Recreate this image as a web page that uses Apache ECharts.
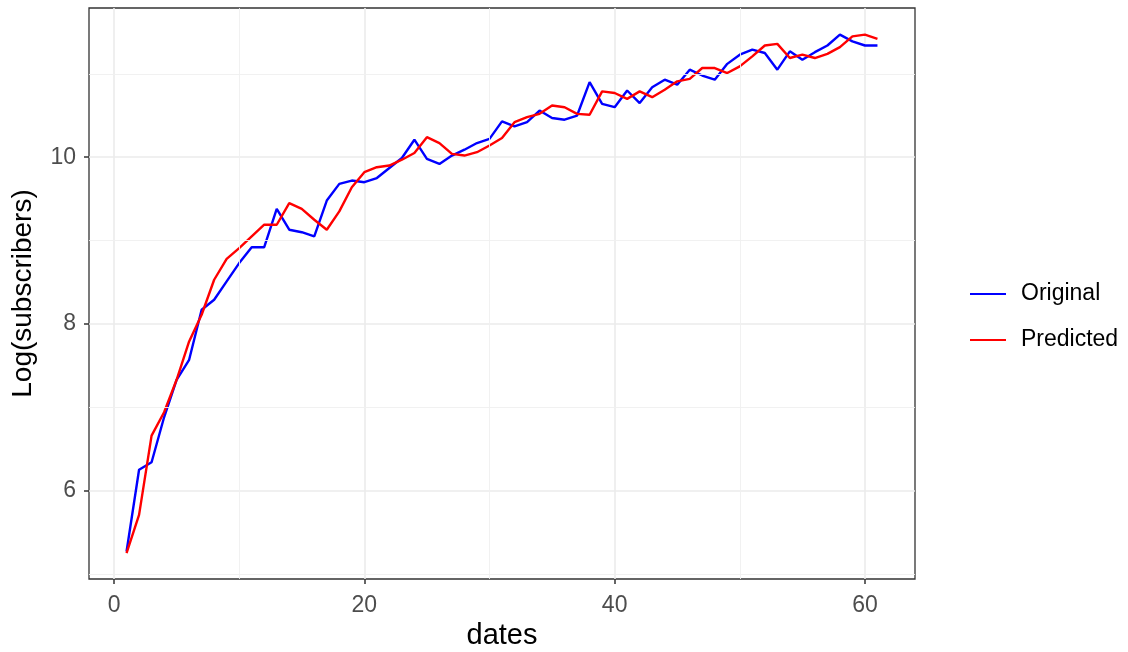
<!DOCTYPE html>
<html>
<head>
<meta charset="utf-8">
<script src="https://cdn.jsdelivr.net/npm/echarts@6/dist/echarts.min.js"></script>
<style>
  html, body { margin: 0; padding: 0; background: #fff; }
  #chart { width: 1128px; height: 652px; }
</style>
</head>
<body>
<div id="chart"></div>
<script>
// x positions (dates index)
var dates = [1, 2, 3, 4, 5, 6, 7, 8, 9, 10, 11, 12, 13, 14, 15, 16, 17, 18, 19, 20,
  21, 22, 23, 24, 25, 26, 27, 28, 29, 30, 31, 32, 33, 34, 35, 36, 37, 38, 39, 40,
  41, 42, 43, 44, 45, 46, 47, 48, 49, 50, 51, 52, 53, 54, 55, 56, 57, 58, 59, 60, 61];

var original = [5.27, 6.25, 6.34, 6.88, 7.33, 7.57, 8.17, 8.29, 8.51, 8.73,
  8.92, 8.92, 9.38, 9.13, 9.10, 9.05, 9.48, 9.68, 9.72, 9.70,
  9.75, 9.87, 9.99, 10.21, 9.98, 9.92, 10.02, 10.09, 10.17, 10.22,
  10.43, 10.37, 10.42, 10.56, 10.47, 10.45, 10.50, 10.90, 10.64, 10.60,
  10.80, 10.65, 10.84, 10.93, 10.87, 11.05, 10.98, 10.93, 11.12, 11.23,
  11.29, 11.25, 11.05, 11.27, 11.17, 11.26, 11.34, 11.47, 11.39, 11.34, 11.34];

var predicted = [5.25, 5.71, 6.66, 6.94, 7.33, 7.79, 8.11, 8.53, 8.78, 8.91,
  9.05, 9.19, 9.19, 9.45, 9.38, 9.25, 9.13, 9.35, 9.64, 9.82,
  9.88, 9.90, 9.97, 10.05, 10.24, 10.17, 10.04, 10.02, 10.06, 10.14,
  10.23, 10.42, 10.48, 10.52, 10.62, 10.60, 10.52, 10.51, 10.79, 10.77,
  10.70, 10.79, 10.72, 10.81, 10.91, 10.94, 11.07, 11.07, 11.01, 11.09,
  11.21, 11.34, 11.36, 11.19, 11.23, 11.19, 11.24, 11.32, 11.45, 11.47, 11.42];

var xTicks = [0, 20, 40, 60];
var xMinor = [10, 30, 50];
var yTicks = [6, 8, 10];
var yMinor = [5, 7, 9, 11];

var FONT = "'Liberation Sans', Arial, sans-serif";

function pairs(xs, ys) {
  return xs.map(function (x, i) { return [x, ys[i]]; });
}

var chartDom = document.getElementById('chart');
var myChart = echarts.init(chartDom, null, { renderer: 'canvas' });

var minorLines = xMinor.map(function (v) { return { xAxis: v }; })
  .concat(yMinor.map(function (v) { return { yAxis: v }; }));

var option = {
  backgroundColor: '#ffffff',
  animation: false,
  textStyle: { fontFamily: FONT },
  grid: {
    left: 89, right: 213, top: 8, bottom: 73,
    outerBoundsMode: 'none',
    containLabel: false,
    show: true, borderColor: '#333333', borderWidth: 1.3,
    backgroundColor: '#ffffff'
  },
  legend: {
    orient: 'vertical',
    left: 965,
    top: 277,
    icon: 'rect',
    itemWidth: 36,
    itemHeight: 2,
    itemGap: 22,
    data: ['Original', 'Predicted'],
    textStyle: {
      fontFamily: FONT, fontSize: 23, color: '#000000',
      lineHeight: 24, padding: [0, 0, 0, 10]
    }
  },
  xAxis: {
    type: 'value',
    min: -2,
    max: 64,
    name: 'dates',
    nameLocation: 'middle',
    nameGap: 38,
    nameTextStyle: { fontFamily: FONT, fontSize: 29, color: '#000000' },
    axisLine: { show: false, onZero: false },
    axisTick: {
      show: true, length: 5, customValues: xTicks,
      lineStyle: { color: '#333333', width: 1.5 }
    },
    axisLabel: {
      customValues: xTicks, margin: 15,
      fontFamily: FONT, fontSize: 23, color: '#4D4D4D'
    },
    splitLine: { show: true, lineStyle: { color: '#EBEBEB', width: 1.6 } }
  },
  yAxis: {
    type: 'value',
    min: 4.94,
    max: 11.79,
    name: 'Log(subscribers)',
    nameLocation: 'middle',
    nameGap: 52,
    nameTextStyle: { fontFamily: FONT, fontSize: 28, color: '#000000' },
    axisLine: { show: false, onZero: false },
    axisTick: {
      show: true, length: 5, customValues: yTicks,
      lineStyle: { color: '#333333', width: 1.5 }
    },
    axisLabel: {
      customValues: yTicks, margin: 13,
      fontFamily: FONT, fontSize: 23, color: '#4D4D4D'
    },
    splitLine: { show: true, lineStyle: { color: '#EBEBEB', width: 1.6 } }
  },
  series: [
    {
      name: 'grid-minor',
      type: 'line',
      data: [],
      silent: true,
      z: 1,
      markLine: {
        silent: true,
        symbol: 'none',
        label: { show: false },
        lineStyle: { color: '#EFEFEF', width: 0.9, type: 'solid' },
        data: minorLines
      }
    },
    {
      name: 'Original',
      type: 'line',
      data: pairs(dates, original),
      showSymbol: false,
      z: 3,
      lineStyle: { color: '#0000FF', width: 2.4 },
      itemStyle: { color: '#0000FF' }
    },
    {
      name: 'Predicted',
      type: 'line',
      data: pairs(dates, predicted),
      showSymbol: false,
      z: 4,
      lineStyle: { color: '#FF0000', width: 2.4 },
      itemStyle: { color: '#FF0000' }
    }
  ]
};

myChart.setOption(option);
</script>
</body>
</html>
